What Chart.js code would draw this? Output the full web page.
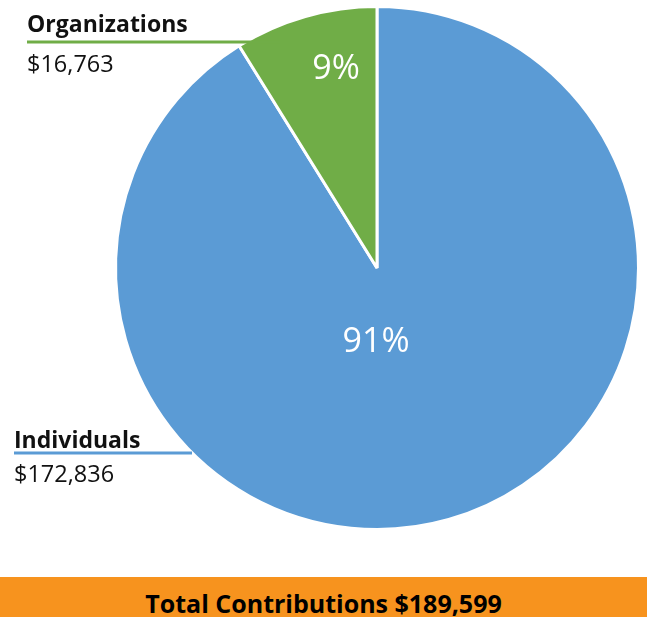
<!DOCTYPE html>
<html>
<head>
<meta charset="utf-8">
<script src="https://cdn.jsdelivr.net/npm/chart.js@4/dist/chart.umd.min.js"></script>
<style>
  html, body { margin: 0; padding: 0; background: #fff; }
  #wrap { position: relative; width: 647px; height: 577px; }
  #banner {
    width: 647px; height: 40px; background: #F7931E;
    font-family: "Open Sans", Lato, sans-serif; font-weight: 700; font-size: 25px;
    color: #000; text-align: center; line-height: 52px; overflow: hidden;
  }
</style>
</head>
<body>
<div id="wrap"><canvas id="c" width="647" height="577"></canvas></div>
<div id="banner">Total Contributions $189,599</div>
<script>
const categories = ["Individuals", "Organizations"];
const amounts = [172836, 16763];
const amountLabels = ["$172,836", "$16,763"];
const percentLabels = ["91%", "9%"];
const COLORS = ["#5B9BD5", "#70AD47"];

// side labels: name, underline, amount
const SIDE = [
  { x: 14, nameY: 448, lineY: 453, lineEnd: 192, amtY: 482 },
  { x: 27, nameY: 32, lineY: 42, lineEnd: 280, amtY: 72 },
];
// percent text offsets from the pie centre
const PCT_OFF = [[-1, 74], [-41, -199]];

const labelPlugin = {
  id: "labels",
  afterDraw(chart) {
    const ctx = chart.ctx;
    const meta = chart.getDatasetMeta(0);
    ctx.save();
    meta.data.forEach((arc, i) => {
      const { x: cx, y: cy } = arc.getProps(["x", "y"], true);
      ctx.fillStyle = "#fff";
      ctx.font = "34px 'Open Sans', Lato, sans-serif";
      ctx.textAlign = "center";
      ctx.textBaseline = "middle";
      ctx.fillText(percentLabels[i], cx + PCT_OFF[i][0], cy + PCT_OFF[i][1]);

      const s = SIDE[i];
      ctx.strokeStyle = COLORS[i];
      ctx.lineWidth = 3;
      ctx.beginPath();
      ctx.moveTo(s.x, s.lineY);
      ctx.lineTo(s.lineEnd, s.lineY);
      ctx.stroke();
      ctx.fillStyle = "#111";
      ctx.textAlign = "left";
      ctx.textBaseline = "alphabetic";
      ctx.font = "bold 23px 'Open Sans', Lato, sans-serif";
      ctx.fillText(categories[i], s.x, s.nameY);
      ctx.font = "23.5px 'Open Sans', Lato, sans-serif";
      ctx.fillText(amountLabels[i], s.x, s.amtY);
    });
    ctx.restore();
  },
};

new Chart(document.getElementById("c"), {
  type: "pie",
  data: {
    labels: categories,
    datasets: [{
      data: amounts,
      backgroundColor: COLORS,
      borderColor: "#fff",
      borderWidth: 3,
    }],
  },
  options: {
    responsive: false,
    animation: false,
    layout: { padding: { left: 114, right: 7, top: 5, bottom: 46 } },
    plugins: { legend: { display: false }, tooltip: { enabled: false } },
  },
  plugins: [labelPlugin],
});
</script>
</body>
</html>
